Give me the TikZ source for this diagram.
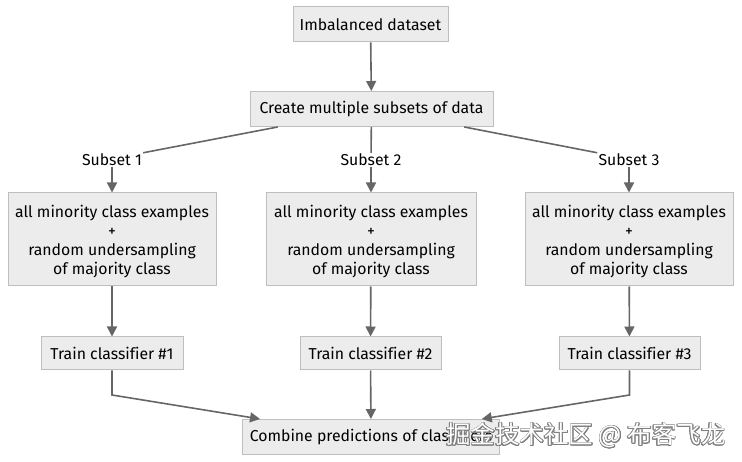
\documentclass[tikz,border=0pt]{standalone}
\usepackage{fontspec}
\setmainfont[Ligatures=NoCommon]{Fira Sans}
\newfontfamily\cjkfont{Noto Sans CJK SC}
\usepackage[copies]{contour}
\usetikzlibrary{arrows.meta}

\definecolor{boxfill}{HTML}{ECECEC}
\definecolor{boxline}{HTML}{BEBEBE}
\definecolor{edgegray}{HTML}{666666}

\newcommand{\mixtext}{\rule{0pt}{17pt}all minority class examples\\+\\random undersampling\\of majority class}

\tikzset{
  box/.style={draw=boxline, fill=boxfill, line width=1pt, inner sep=0pt,
    align=center, font=\fontsize{15.8}{19}\selectfont},
  sublabel/.style={inner sep=1pt, font=\fontsize{15.8}{17}\selectfont},
  link/.style={draw=edgegray, line width=1.6pt},
  arrowlink/.style={link, -{Triangle[length=10pt,width=10pt]}},
}

\begin{document}
\begin{tikzpicture}[x=1pt,y=-1pt]
\useasboundingbox (0,0) rectangle (742,462);

% Top of the flow
\node[box, minimum width=155pt, minimum height=35pt] (data) at (370.5,24.5) {Imbalanced dataset};
\node[box, minimum width=243pt, minimum height=35pt] (subsets) at (371.5,109) {Create multiple subsets of data};

% Edge labels
\node[sublabel] (s1) at (112,160) {Subset 1};
\node[sublabel] (s2) at (371,160) {Subset 2};
\node[sublabel] (s3) at (629,160) {Subset 3};

% Resampled subsets
\node[box, minimum width=208pt, minimum height=93pt] (mix1) at (112,239.5) {\mixtext};
\node[box, minimum width=210pt, minimum height=93pt] (mix2) at (371,239.5) {\mixtext};
\node[box, minimum width=208pt, minimum height=93pt] (mix3) at (629,239.5) {\mixtext};

% Classifiers
\node[box, minimum width=142pt, minimum height=33pt] (train1) at (112,353.5) {Train classifier \#1};
\node[box, minimum width=141pt, minimum height=33pt] (train2) at (370.5,353.5) {Train classifier \#2};
\node[box, minimum width=141pt, minimum height=33pt] (train3) at (629.5,353.5) {Train classifier \#3};

\node[box, minimum width=257pt, minimum height=35pt] (combine) at (371,437) {Combine predictions of classifiers};

% Bends
\coordinate (bend1) at (112,395);
\coordinate (bend3) at (629.5,395);

% Connectors
\draw[arrowlink] (data) -- (subsets);
\draw[link] (subsets) -- (s1.north east);
\draw[link] (subsets) -- (s2);
\draw[link] (subsets) -- (s3.north west);
\draw[arrowlink] (s1) -- (mix1);
\draw[arrowlink] (s2) -- (mix2);
\draw[arrowlink] (s3) -- (mix3);
\draw[arrowlink] (mix1) -- (train1);
\draw[arrowlink] (mix2) -- (train2);
\draw[arrowlink] (mix3) -- (train3);
\draw[arrowlink] (train1) -- (bend1) -- (combine);
\draw[arrowlink] (train2) -- (combine);
\draw[arrowlink] (train3) -- (bend3) -- (combine);

% Watermark
\contourlength{0.7pt}
\node[text=white, inner sep=0pt, font=\cjkfont\fontsize{24.5}{24.5}\selectfont] (mark) at (586,436)
  {\contour{gray}{掘金技术社区 @ 布客飞龙}};

\end{tikzpicture}
\end{document}
